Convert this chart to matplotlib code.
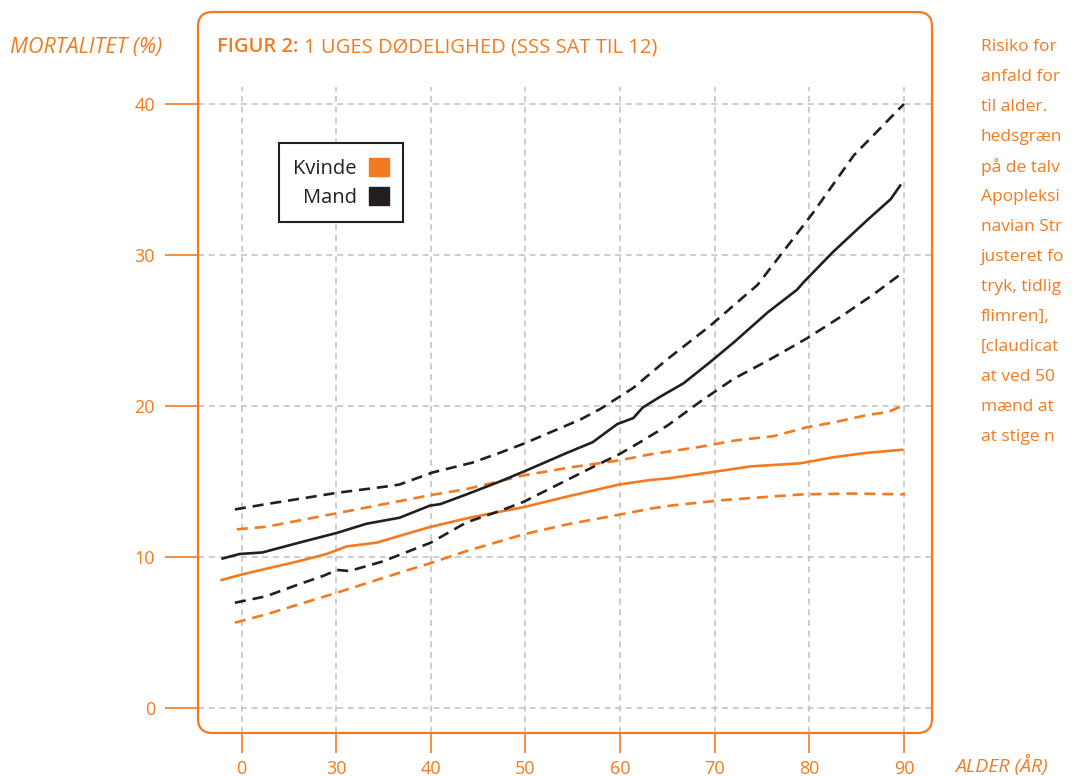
import matplotlib.pyplot as plt
from matplotlib.patches import FancyBboxPatch, Patch

plt.rcParams['font.family'] = ['Open Sans', 'DejaVu Sans']

ORANGE = '#f47a20'
BLACK = '#231f20'
GRID = '#c0c0c0'

# Mand: middel og 95% sikkerhedsgraenser (aflaest fra figuren)
mand_alder = [18.0, 19.8, 22.2, 26.1, 30.1, 33.2, 36.7, 38.5, 39.9, 41.0, 43.8, 47.3, 49.8,
              54.4, 57.1, 59.7, 61.4, 62.4, 64.2, 66.7, 69.5, 72.0, 75.6, 78.7, 79.4,
              82.5, 86.1, 88.6, 89.6]
mand = [9.9, 10.2, 10.3, 10.95, 11.6, 12.2, 12.6, 13.05, 13.4, 13.5, 14.15, 15.0, 15.65,
        16.9, 17.6, 18.8, 19.2, 19.9, 20.6, 21.5, 22.9, 24.2, 26.2, 27.7, 28.2,
        30.2, 32.3, 33.7, 34.6]

mand_ovre_alder = [19.3, 22.6, 30.1, 35.7, 36.7, 40.2, 44.4, 47.3, 49.8, 55.8, 57.9, 61.4,
                   65.0, 69.5, 73.0, 74.5, 77.7, 80.4, 84.7, 90.0]
mand_ovre = [13.15, 13.5, 14.25, 14.7, 14.8, 15.6, 16.25, 16.9, 17.5, 19.1, 19.8, 21.2,
             23.1, 25.3, 27.2, 28.0, 30.6, 32.8, 36.6, 40.0]

mand_nedre_alder = [19.3, 22.6, 26.1, 28.6, 30.1, 31.4, 34.9, 40.0, 43.8, 47.3, 49.8, 54.4,
                    57.9, 59.9, 62.1, 65.0, 68.5, 72.0, 75.6, 79.8, 83.3, 86.8, 89.8]
mand_nedre = [6.97, 7.4, 8.2, 8.74, 9.14, 9.07, 9.7, 10.95, 12.3, 13.05, 13.65, 15.1,
              16.2, 16.8, 17.6, 18.7, 20.3, 21.8, 23.0, 24.5, 25.9, 27.4, 28.8]

# Kvinde
kvinde_alder = [17.9, 20.1, 26.1, 29.0, 31.1, 34.3, 36.7, 40.0, 43.8, 47.3, 49.8, 54.4,
                59.9, 63.2, 65.0, 69.5, 73.8, 79.0, 82.5, 86.1, 89.8]
kvinde = [8.48, 8.85, 9.73, 10.2, 10.7, 10.95, 11.4, 12.0, 12.56, 13.0, 13.3, 14.0,
          14.8, 15.1, 15.2, 15.6, 16.0, 16.2, 16.6, 16.9, 17.1]

kvinde_ovre_alder = [19.5, 22.6, 30.1, 36.7, 40.0, 43.8, 49.8, 54.4, 59.9, 63.2, 68.5,
                     72.0, 76.2, 79.8, 82.5, 86.1, 88.3, 89.8]
kvinde_ovre = [11.83, 12.0, 12.9, 13.7, 14.1, 14.5, 15.4, 15.9, 16.4, 16.8, 17.3,
               17.7, 18.0, 18.6, 18.9, 19.4, 19.6, 20.0]

kvinde_nedre_alder = [19.3, 22.6, 30.1, 36.7, 40.0, 43.8, 49.8, 54.4, 59.9, 63.2, 65.3,
                      70.6, 75.9, 79.4, 84.7, 90.1]
kvinde_nedre = [5.65, 6.2, 7.64, 8.96, 9.6, 10.4, 11.5, 12.16, 12.8, 13.2, 13.4,
                13.75, 14.0, 14.15, 14.2, 14.15]

x_ticks = [20, 30, 40, 50, 60, 70, 80, 90]
x_labels = ['0', '30', '40', '50', '60', '70', '80', '90']
y_ticks = [0, 10, 20, 30, 40]

# sidetekst, beskaaret ved billedkanten som i originalen
side_text = ["Risiko for", "anfald for", "til alder.", "hedsgræn", "på de talv",
             "Apopleksi", "navian Str", "justeret fo", "tryk, tidlig", "flimren],",
             "[claudicat", "at ved 50", "mænd at", "at stige n"]

fig = plt.figure(figsize=(10.77, 7.76), dpi=100)
ax = fig.add_axes([198 / 1077, 1 - 733 / 776, 734 / 1077, 721 / 776])
ax.set_xlim(15.4, 92.96)
ax.set_ylim(-1.656, 46.09)

for s in ax.spines.values():
    s.set_visible(False)
box = FancyBboxPatch((0, 0), 1, 1, boxstyle='round,pad=0,rounding_size=0.02',
                     transform=ax.transAxes, fill=False, ec=ORANGE, lw=1.6,
                     clip_on=False, zorder=5)
ax.add_patch(box)

# gitter
ax.set_yticks(y_ticks)
ax.grid(axis='y', color=GRID, lw=1.1, ls=(0, (4, 3)), zorder=0)
ax.vlines(x_ticks, -1.656, 41.1, color=GRID, lw=1.1, ls=(0, (4, 3)), zorder=0)

dash = (0, (4.2, 2.6))
ax.plot(kvinde_ovre_alder, kvinde_ovre, color=ORANGE, lw=1.9, ls=dash, zorder=3)
ax.plot(kvinde_nedre_alder, kvinde_nedre, color=ORANGE, lw=1.9, ls=dash, zorder=3)
ax.plot(kvinde_alder, kvinde, color=ORANGE, lw=1.9, zorder=3)
ax.plot(mand_ovre_alder, mand_ovre, color=BLACK, lw=1.9, ls=dash, zorder=4)
ax.plot(mand_nedre_alder, mand_nedre, color=BLACK, lw=1.9, ls=dash, zorder=4)
ax.plot(mand_alder, mand, color=BLACK, lw=1.9, zorder=4)

ax.set_xticks(x_ticks)
ax.set_xticklabels(x_labels)
ax.tick_params(axis='y', direction='out', length=24, width=1.2, color=ORANGE,
               labelcolor=ORANGE, labelsize=13, pad=7)
ax.tick_params(axis='x', direction='out', length=14.5, width=1.2, color=ORANGE,
               labelcolor=ORANGE, labelsize=13, pad=5)

handles = [Patch(color=ORANGE), Patch(color=BLACK)]
leg = ax.legend(handles, ['Kvinde', 'Mand'], loc='upper left', bbox_to_anchor=(0.11, 0.818),
                borderaxespad=0, markerfirst=False, fancybox=False, framealpha=1,
                edgecolor=BLACK, fontsize=14.5, handlelength=1.0, handleheight=1.0,
                handletextpad=0.6, labelspacing=0.42, borderpad=0.72, labelcolor=BLACK)
leg.get_frame().set_linewidth(1.5)
leg.set_zorder(6)

# tekster
fig.text(10 / 1077, 1 - 47 / 776, 'MORTALITET (%)', color=ORANGE, fontsize=15.5,
         style='italic', va='center', ha='left')
t1 = fig.text(217 / 1077, 1 - 47 / 776, 'FIGUR 2:', color=ORANGE, fontsize=14.5,
              fontweight='semibold', va='center', ha='left')
ax.annotate('1 UGES DØDELIGHED (SSS SAT TIL 12)', xy=(1, 0.5), xycoords=t1,
            xytext=(4, 0), textcoords='offset points', color=ORANGE, fontsize=14.5,
            va='center', ha='left', annotation_clip=False)
fig.text(955 / 1077, 1 - 765 / 776, 'ALDER (ÅR)', color=ORANGE, fontsize=14,
         style='italic', va='center', ha='left')

for i, line in enumerate(side_text):
    fig.text(981 / 1077, 1 - (47 + 30 * i) / 776, line, color=ORANGE, fontsize=12.5,
             va='center', ha='left')

fig.savefig('out.png', dpi=100)
